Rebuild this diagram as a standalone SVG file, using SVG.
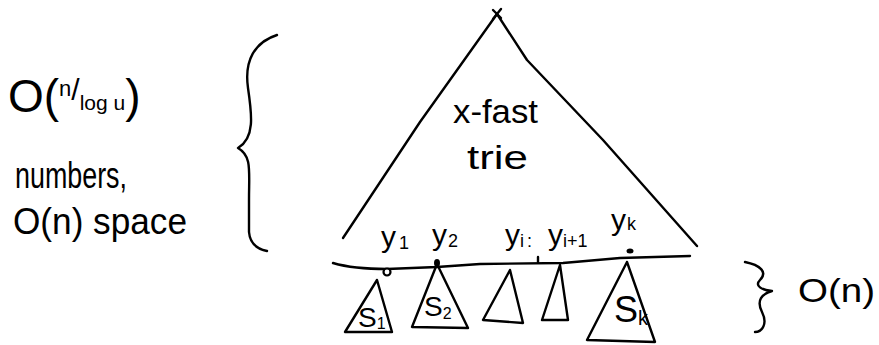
<svg xmlns="http://www.w3.org/2000/svg" width="879" height="345" viewBox="0 0 879 345">
  <style>
    .ln { fill: none; stroke: #000; stroke-width: 2.4; stroke-linecap: round; stroke-linejoin: round; }
    .t { font-family: "Liberation Sans", "DejaVu Sans", sans-serif; fill: #000; }
    .big { font-size: 34px; }
    .mid { font-size: 30px; }
    .sm { font-size: 18px; }
  </style>
  <rect width="879" height="345" fill="#fff"/>

  <g id="left-label">
    <text class="t" font-size="46" x="8" y="112">O(<tspan font-size="22" dy="-16">n</tspan><tspan font-size="30" dy="4">/</tspan><tspan font-size="21" dy="10">log u</tspan><tspan font-size="46" dy="2">)</tspan></text>
    <text class="t" font-size="36" x="15" y="188" textLength="112" lengthAdjust="spacingAndGlyphs">numbers,</text>
    <text class="t" font-size="36" x="13" y="234" textLength="174" lengthAdjust="spacingAndGlyphs">O(n) space</text>
  </g>

  <g id="left-brace">
    <path class="ln" d="M277,35 C255,42 244,60 248,88 C252,115 255,138 238,148 C252,156 249,170 249,200 L249,232 C250,244 257,249 267,251"/>
  </g>

  <g id="xfast-trie">
    <path class="ln" d="M497,14 L420,122 L343,238"/>
    <path class="ln" d="M497,14 L527,60 L603,140 L697,246"/>
    <path class="ln" d="M493,10 L501,18 M501,9 L493,19"/>
    <text class="t big" x="453" y="123" textLength="85" lengthAdjust="spacingAndGlyphs">x-fast</text>
    <text class="t big" x="467" y="169" textLength="61" lengthAdjust="spacingAndGlyphs">trie</text>
  </g>

  <g id="labels">
    <text class="t mid" x="381" y="247">y<tspan class="sm" dx="3" dy="2">1</tspan></text>
    <text class="t mid" x="432" y="245">y<tspan class="sm" dx="1" dy="2">2</tspan></text>
    <text class="t mid" x="505" y="245">y<tspan class="sm" dy="2">i</tspan><tspan class="sm" dx="3" dy="0">:</tspan></text>
    <text class="t mid" x="548" y="245">y<tspan class="sm" dy="2">i+1</tspan></text>
    <text class="t mid" x="611" y="230">y<tspan class="sm" dx="1" dy="0">k</tspan></text>
  </g>

  <g id="connectors">
    <path class="ln" d="M333,263 C350,268 370,269 387,269 L437,267 L480,264 L563,263 L620,258 L690,256"/>
    <path class="ln" d="M538,257 L538,262"/>
    <circle cx="387" cy="272" r="3.5" fill="#fff" stroke="#000" stroke-width="2.2"/>
    <ellipse cx="437" cy="263" rx="3" ry="4" fill="#000"/>
    <ellipse cx="630" cy="251" rx="3.5" ry="2.5" fill="#000"/>
  </g>

  <g id="subtree-s1">
    <path class="ln" d="M377,280 L345,332 L392,332 Z"/>
    <text class="t" font-size="28" x="358" y="327">S<tspan font-size="16" dy="2">1</tspan></text>
  </g>
  <g id="subtree-s2">
    <path class="ln" d="M437,264 L412,327 L468,328 Z"/>
    <text class="t" font-size="28" x="424" y="316">S<tspan font-size="16" dy="3">2</tspan></text>
  </g>
  <g id="subtree-3">
    <path class="ln" d="M510,270 L483,320 L523,323 Z"/>
  </g>
  <g id="subtree-4">
    <path class="ln" d="M560,265 L542,320 L568,320 Z"/>
  </g>
  <g id="subtree-sk">
    <path class="ln" d="M627,262 L587,340 L655,342 Z"/>
    <text class="t" font-size="36" x="614" y="322">S<tspan font-size="20" dy="3">k</tspan></text>
  </g>

  <g id="right-brace">
    <path class="ln" d="M745,262 C760,265 768,272 760,280 C754,286 762,290 772,291 C762,294 756,300 762,312 C768,324 762,332 755,332"/>
    <text class="t big" x="798" y="302" textLength="77" lengthAdjust="spacingAndGlyphs">O(n)</text>
  </g>
</svg>
